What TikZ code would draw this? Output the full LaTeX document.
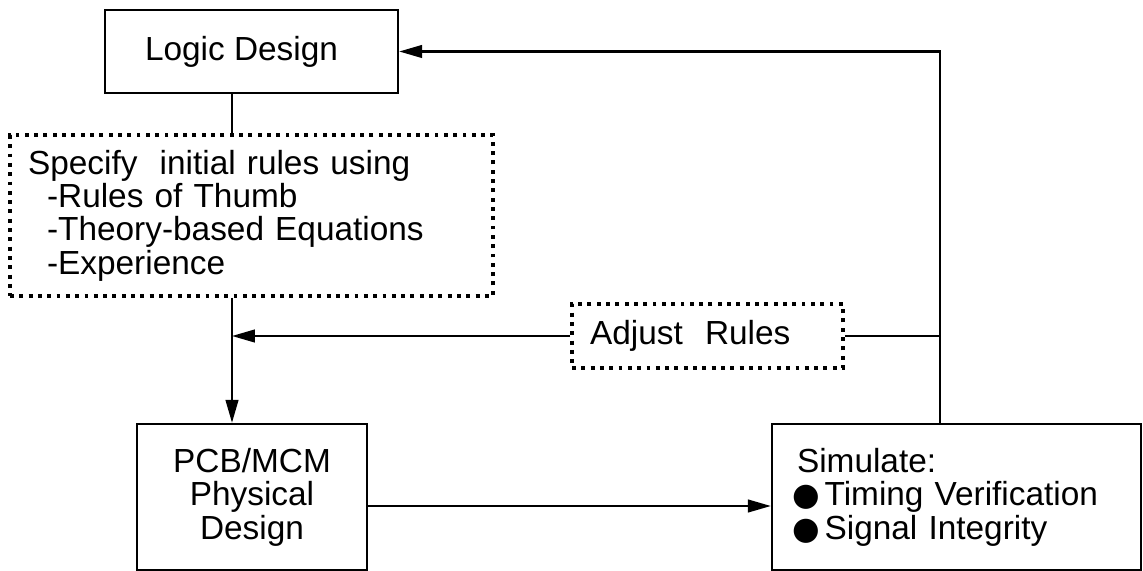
\documentclass[tikz,border=0pt]{standalone}
\usepackage{fontspec}
\setmainfont{Liberation Sans}
\newfontfamily\symfont{DejaVu Sans}
\usetikzlibrary{arrows.meta, positioning}

\begin{document}
\begin{tikzpicture}[x=0.02cm, y=-0.02cm,
  font=\fontsize{19}{19}\selectfont,
  box/.style={draw, line width=1.4pt, inner sep=0pt},
  dotbox/.style={draw, line width=2.2pt, dash pattern=on 2.2pt off 3.1pt, inner sep=0pt},
  link/.style={line width=1.2pt},
  arr/.style={link, -{Triangle[length=13pt, width=7.2pt]}}]
  \useasboundingbox (0,0) rectangle (1143,571);
  % boxes
  \node[box, minimum width=5.86cm, minimum height=1.66cm] (logic) at (251.5,51.5) {Logic Design\hspace*{0.4cm}};
  \node[dotbox, minimum width=9.66cm, minimum height=3.22cm, text width=8.94cm,
        inner xsep=0.36cm, align=left] (spec) at (251.5,215.5)
    {Specify\ \ initial rules using\\
     \hspace*{0.38cm}-Rules of Thumb\\
     \hspace*{0.38cm}-Theory-based Equations\\
     \hspace*{0.38cm}-Experience};
  \node[dotbox, minimum width=5.42cm, minimum height=1.28cm, text width=4.70cm,
        inner xsep=0.36cm, align=left] (adjust) at (707.5,336) {Adjust\ \ Rules};
  \node[box, minimum width=4.6cm, minimum height=2.92cm, align=center] (pcb) at (252,497)
    {PCB/MCM\\Physical\\Design};
  \node[box, minimum width=7.38cm, minimum height=2.92cm, text width=6.58cm,
        inner xsep=0.4cm, align=left] (sim) at (956.5,497)
    {\hspace*{0.1cm}Simulate:\\
     {\symfont\fontsize{18}{19}\selectfont ●}\hspace{0.1cm}Timing Verification\\
     {\symfont\fontsize{18}{19}\selectfont ●}\hspace{0.1cm}Signal Integrity};
  % helper points
  \coordinate (spine) at (232,0);
  \coordinate (ret) at (940,51.5);
  \coordinate (row) at (0,506);
  % flow
  \draw[link] (logic.south -| spine) -- (spec.north -| spine);
  \draw[arr] (spec.south -| spine) -- (pcb.north -| spine);
  \draw[arr] (pcb.east |- row) -- (sim.west |- row);
  \draw[arr] (sim.north -| ret) -- (ret) -- (logic.east);
  % feedback
  \draw[link] (adjust.east) -- (adjust.east -| ret);
  \draw[arr] (adjust.west) -- (adjust.west -| spine);
\end{tikzpicture}
\end{document}
